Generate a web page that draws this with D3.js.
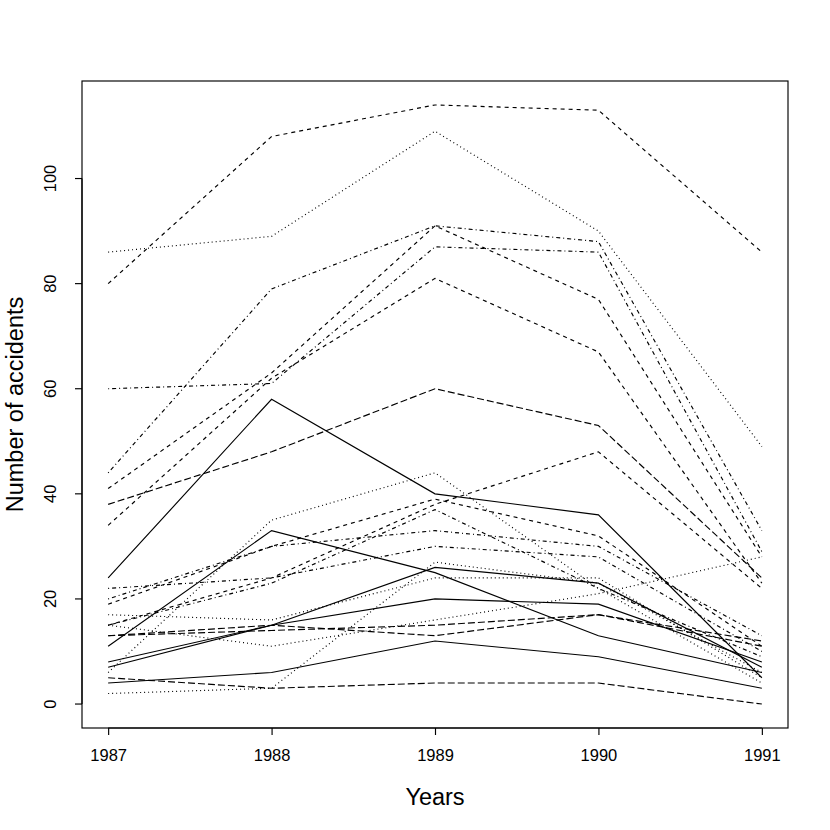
<!DOCTYPE html>
<html>
<head>
<meta charset="utf-8">
<script src="https://cdn.jsdelivr.net/npm/d3@7/dist/d3.min.js"></script>
<style>
    body { margin: 0; background: #fff; }
    svg text { font-family: "Liberation Sans", Arial, sans-serif; fill: #000; }
</style>
</head>
<body>
<div id="chart"></div>
<script>
/*global d3*/
// years on the x axis
var years = [1987, 1988, 1989, 1990, 1991];
var yTicks = [0, 20, 40, 60, 80, 100];

// one row per series
var seriesValues = [
    [86, 89, 109, 90, 49],
    [80, 108, 114, 113, 86],
    [60, 61, 87, 86, 29],
    [44, 79, 91, 88, 33],
    [41, 63, 91, 77, 28],
    [38, 48, 60, 53, 24],
    [34, 62, 81, 67, 23],
    [24, 58, 40, 36, 5],
    [22, 24, 30, 28, 10],
    [20, 30, 33, 30, 13],
    [19, 30, 39, 32, 11],
    [15, 24, 38, 48, 22],
    [15, 23, 37, 22, 9],
    [17, 16, 24, 24, 5],
    [15, 11, 16, 21, 28],
    [13, 15, 13, 17, 12],
    [13, 14, 15, 17, 11],
    [11, 33, 25, 13, 6],
    [8, 15, 26, 23, 7],
    [7, 15, 20, 19, 8],
    [6, 35, 44, 22, 4],
    [5, 3, 4, 4, 0],
    [4, 6, 12, 9, 3],
    [2, 3, 27, 23, 6]
];

// line type of each series (as in R: solid, dashed, dotted, dotdash, longdash)
var seriesTypes = [
    "dotted", "dashed", "dotdash", "dotdash", "dashed", "longdash", "dashed",
    "solid", "dotdash", "dotdash", "dashed", "dashed", "dotdash", "dotted",
    "dotted", "longdash", "longdash", "solid", "solid", "solid", "dotted",
    "longdash", "solid", "dotted"
];

(function () {
    "use strict";
    var width = 830,
        height = 830,
        plotLeft = 82,
        plotRight = 788,
        plotTop = 81,
        plotBottom = 728,
        tickFont = 16.5,
        dashes = {
            solid: null,
            dashed: "4,4",
            dotted: "1,3",
            dotdash: "1,3,4,3",
            longdash: "7,3"
        },
        svg,
        xScale,
        yScale,
        line;

    svg = d3.select("#chart").append("svg")
        .attr("width", width)
        .attr("height", height);

    // R style ranges: data range widened by 4% on each side
    xScale = d3.scaleLinear()
        .domain([1987 - 0.16, 1991 + 0.16])
        .range([plotLeft, plotRight]);
    yScale = d3.scaleLinear()
        .domain([0 - 114 * 0.04, 114 * 1.04])
        .range([plotBottom, plotTop]);

    line = d3.line()
        .x(function (d, i) { return xScale(years[i]); })
        .y(function (d) { return yScale(d); });

    //the series lines
    svg.append("g")
        .selectAll("path")
        .data(seriesValues)
        .enter().append("path")
        .attr("d", line)
        .attr("fill", "none")
        .attr("stroke", "#000")
        .attr("stroke-width", 1.15)
        .attr("stroke-dasharray", function (d, i) { return dashes[seriesTypes[i]]; });

    //box round the plot
    svg.append("rect")
        .attr("x", plotLeft)
        .attr("y", plotTop)
        .attr("width", plotRight - plotLeft)
        .attr("height", plotBottom - plotTop)
        .attr("fill", "none")
        .attr("stroke", "#000")
        .attr("stroke-width", 1.15);

    //x axis
    svg.append("g")
        .attr("transform", "translate(0," + plotBottom + ")")
        .call(d3.axisBottom(xScale).tickValues(years).tickFormat(d3.format("d")).tickSize(7).tickPadding(14))
        .call(function (g) {
            g.select(".domain").attr("d", "M" + xScale(years[0]) + ",0H" + xScale(years[years.length - 1]));
            g.selectAll("text").attr("font-size", tickFont).attr("font-family", "Liberation Sans, Arial, sans-serif");
        });

    //y axis, labels turned like R does
    svg.append("g")
        .attr("transform", "translate(" + plotLeft + ",0)")
        .call(d3.axisLeft(yScale).tickValues(yTicks).tickSize(7))
        .call(function (g) {
            g.select(".domain").attr("d", "M0," + yScale(yTicks[0]) + "V" + yScale(yTicks[yTicks.length - 1]));
            g.selectAll("text")
                .attr("font-size", tickFont)
                .attr("font-family", "Liberation Sans, Arial, sans-serif")
                .attr("x", null)
                .attr("dy", null)
                .attr("text-anchor", "middle")
                .attr("transform", function (d) { return "translate(-26," + yScale(d) + ") rotate(-90)"; })
                .attr("y", 0);
            g.selectAll(".tick").attr("transform", null);
            g.selectAll(".tick line").attr("transform", function (d) { return "translate(0," + yScale(d) + ")"; });
        });

    svg.selectAll(".domain, .tick line").attr("stroke", "#000").attr("stroke-width", 1.15);

    //axis titles
    svg.append("text")
        .attr("x", (plotLeft + plotRight) / 2)
        .attr("y", 805)
        .attr("text-anchor", "middle")
        .attr("font-size", 23.5)
        .text("Years");

    svg.append("text")
        .attr("transform", "translate(23," + (plotTop + plotBottom) / 2 + ") rotate(-90)")
        .attr("text-anchor", "middle")
        .attr("font-size", 23.5)
        .text("Number of accidents");
}());
</script>
</body>
</html>
